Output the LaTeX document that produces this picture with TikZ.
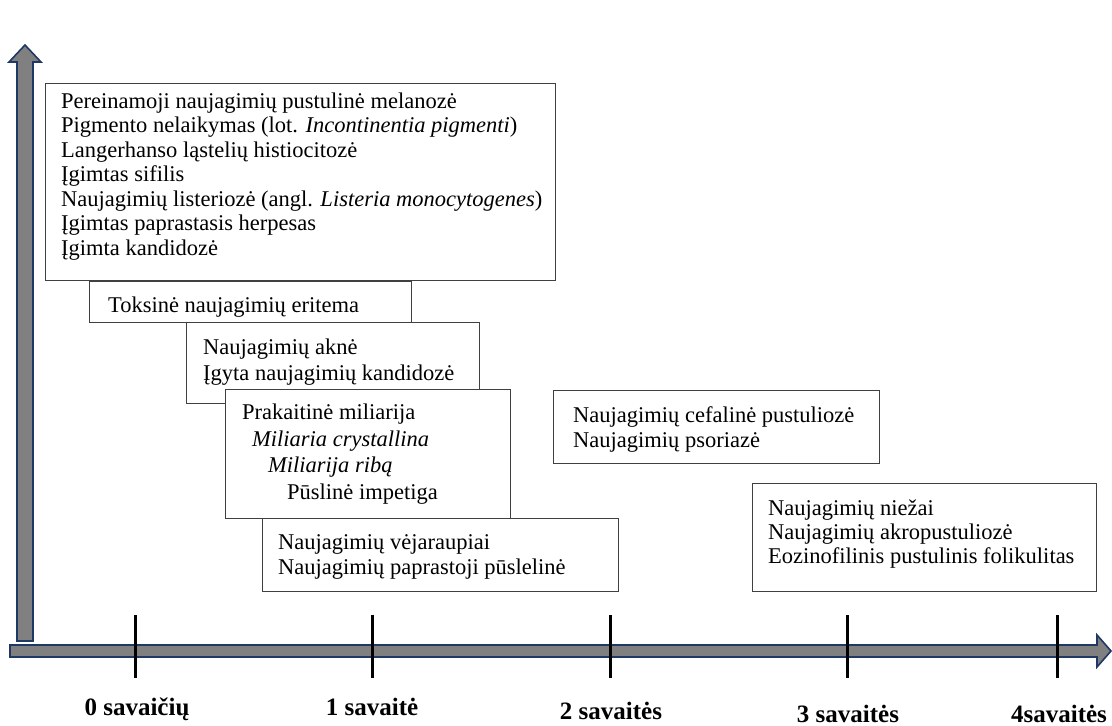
\documentclass[tikz,border=0pt]{standalone}
\usepackage{fontspec}
\setmainfont{Liberation Serif}
\definecolor{axisNavy}{HTML}{1F3864}
\definecolor{axisGray}{HTML}{808080}
\definecolor{boxLine}{HTML}{404040}

\begin{document}
\begin{tikzpicture}[
    x=1pt, y=-1pt,
    itemBox/.style={draw=boxLine, line width=1.2pt, fill=white, anchor=north west, inner sep=0pt},
    itemText/.style={anchor=base west, align=left, inner sep=0pt, font=\fontsize{22.5}{24.5}\selectfont},
    weekLbl/.style={anchor=base, inner sep=0pt, font=\fontsize{25}{28}\selectfont\bfseries},
    axisBar/.style={draw=axisNavy, fill=axisGray, line width=1.6pt, line join=miter},
    weekTick/.style={line width=3pt},
]
\useasboundingbox (0,0) rectangle (1112,726);

% axes
\coordinate (yFoot) at (25,641);
\coordinate (yTip) at (25,45);
\coordinate (xFoot) at (10,651);
\coordinate (xTip) at (1111,651);
\draw[axisBar] (17,641) -- (17,62) -- (9,62) -- (yTip) -- (41,62) -- (33,62) -- (33,641) -- cycle;
\draw[axisBar] (10,645) -- (1097,645) -- (1097,635) -- (xTip)
    -- (1097,667) -- (1097,657) -- (10,657) -- cycle;

% week ticks
\draw[weekTick] (135,615) coordinate (w0) -- (135,678);
\draw[weekTick] (372,615) coordinate (w1) -- (372,678);
\draw[weekTick] (610,615) coordinate (w2) -- (610,678);
\draw[weekTick] (847,615) coordinate (w3) -- (847,678);
\draw[weekTick] (1057,615) coordinate (w4) -- (1057,678);

\node[weekLbl] (lbl0) at (137,715) {0 savaičių};
\node[weekLbl] (lbl1) at (372,715) {1 savaitė};
\node[weekLbl] (lbl2) at (611,719) {2 savaitės};
\node[weekLbl] (lbl3) at (848,722) {3 savaitės};
\node[weekLbl] (lbl4) at (1059,722) {4savaitės};

% disease boxes (text nodes sit on the baseline of their last line)
\node[itemBox, minimum width=510, minimum height=197] (box1) at (45,83) {};
\node[itemText] (list1) at (61,255) {Pereinamoji naujagimių pustulinė melanozė\\
Pigmento nelaikymas (lot. \textit{Incontinentia pigmenti})\\
Langerhanso ląstelių histiocitozė\\
Įgimtas sifilis\\
Naujagimių listeriozė (angl. \textit{Listeria monocytogenes})\\
Įgimtas paprastasis herpesas\\
Įgimta kandidozė};

\node[itemBox, minimum width=322, minimum height=41] (box2) at (89,281) {};
\node[itemText] (list2) at (108,312) {Toksinė naujagimių eritema};

\node[itemBox, minimum width=293, minimum height=81] (box3) at (186,322) {};
\node[itemText, font=\fontsize{22.5}{26}\selectfont] (list3) at (203,380) {Naujagimių aknė\\
Įgyta naujagimių kandidozė};

\node[itemBox, minimum width=285, minimum height=129] (box4) at (225,389) {};
\node[itemText, font=\fontsize{22.5}{26.5}\selectfont] (list4) at (242,499) {Prakaitinė miliarija\\
\hspace*{10pt}\textit{Miliaria crystallina}\\
\hspace*{26pt}\textit{Miliarija ribą}\\
\hspace*{45pt}Pūslinė impetiga};

\node[itemBox, minimum width=356, minimum height=73] (box5) at (262,518) {};
\node[itemText, font=\fontsize{22.5}{25}\selectfont] (list5) at (278,574) {Naujagimių vėjaraupiai\\
Naujagimių paprastoji pūslelinė};

\node[itemBox, minimum width=326, minimum height=73] (box6) at (553,390) {};
\node[itemText, font=\fontsize{22.5}{25}\selectfont] (list6) at (573,447) {Naujagimių cefalinė pustuliozė\\
Naujagimių psoriazė};

\node[itemBox, minimum width=344, minimum height=108] (box7) at (752,483) {};
\node[itemText, font=\fontsize{22.5}{24}\selectfont] (list7) at (768,563) {Naujagimių niežai\\
Naujagimių akropustuliozė\\
Eozinofilinis pustulinis folikulitas};
\end{tikzpicture}
\end{document}
